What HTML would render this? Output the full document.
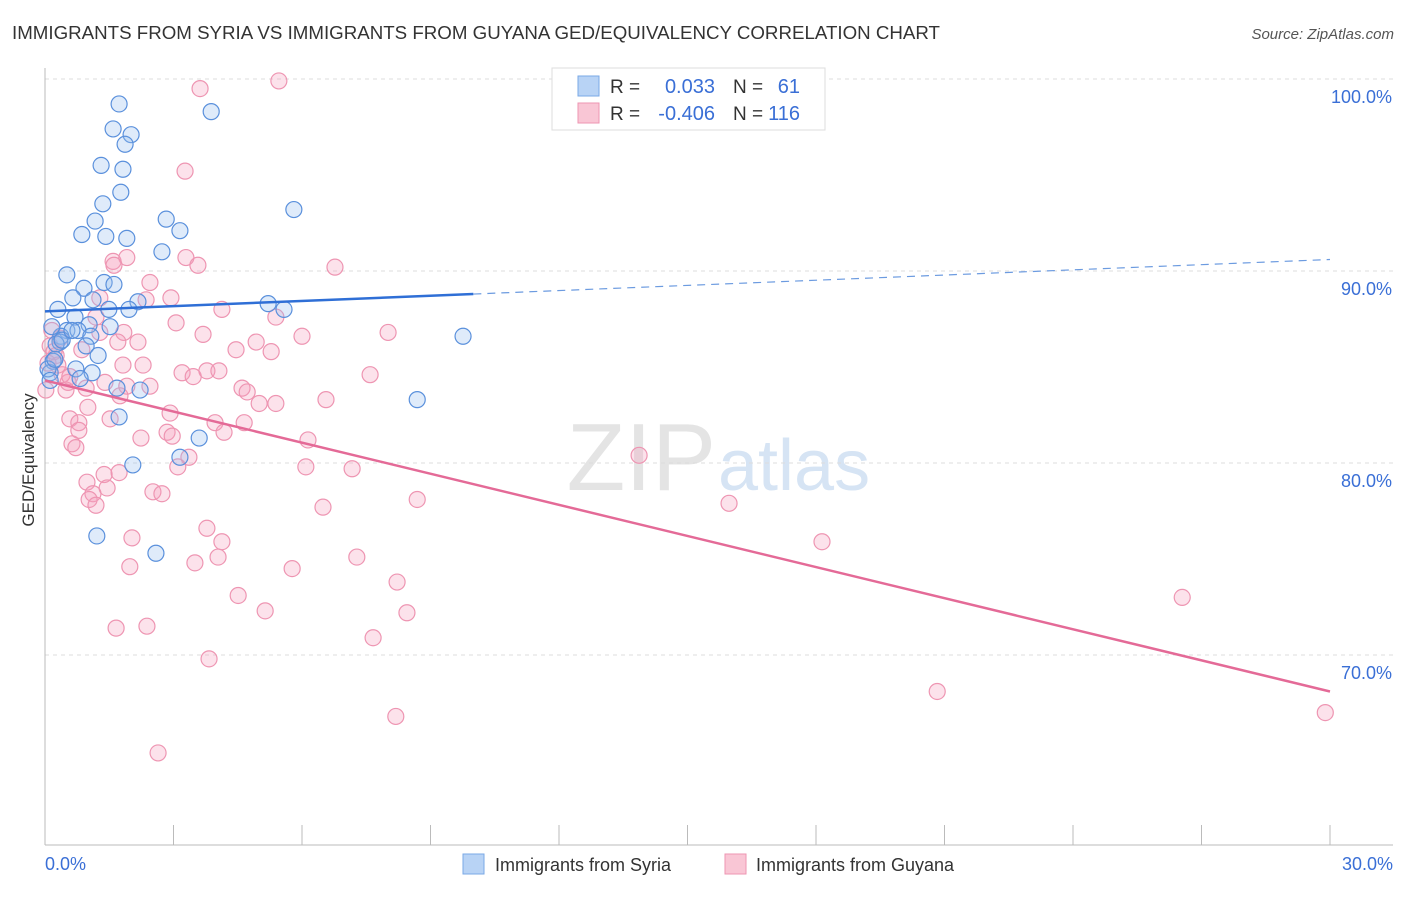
<!DOCTYPE html>
<html><head><meta charset="utf-8"><style>
body{margin:0;background:#fff;font-family:"Liberation Sans",sans-serif;}
svg text{font-family:"Liberation Sans",sans-serif;}
</style></head><body>
<svg id="c" width="1406" height="892">
<text x="12" y="39" font-size="18" fill="#333" textLength="928" lengthAdjust="spacingAndGlyphs">IMMIGRANTS FROM SYRIA VS IMMIGRANTS FROM GUYANA GED/EQUIVALENCY CORRELATION CHART</text>
<text x="1394" y="39" font-size="15" fill="#555" font-style="italic" text-anchor="end">Source: ZipAtlas.com</text>
<text x="716" y="490" font-size="96" fill="#e4e4e4" text-anchor="end" font-family="Liberation Serif">ZIP</text>
<text x="718" y="490" font-size="72" fill="#d6e4f4">atlas</text>
<text x="34" y="460" font-size="17" fill="#333" text-anchor="middle" transform="rotate(-90 34 460)">GED/Equivalency</text>
<g id="grid"></g><g id="pts"></g><g id="lines"></g>
<g>
<rect x="552" y="68" width="273" height="62" fill="#fff" stroke="#ddd"/>
<rect x="578" y="76" width="21" height="20" fill="#b8d3f5" stroke="#7aa8e6"/>
<rect x="578" y="103" width="21" height="20" fill="#f9c6d5" stroke="#ee95b2"/>
<text x="610" y="93" font-size="19" fill="#333">R =</text><text x="715" y="93" font-size="20" fill="#3a6fd6" text-anchor="end">0.033</text>
<text x="733" y="93" font-size="19" fill="#333">N =</text><text x="800" y="93" font-size="20" fill="#3a6fd6" text-anchor="end">61</text>
<text x="610" y="120" font-size="19" fill="#333">R =</text><text x="715" y="120" font-size="20" fill="#3a6fd6" text-anchor="end">-0.406</text>
<text x="733" y="120" font-size="19" fill="#333">N =</text><text x="800" y="120" font-size="20" fill="#3a6fd6" text-anchor="end">116</text>
</g>
<g>
<rect x="463" y="854" width="21" height="20" fill="#b8d3f5" stroke="#7aa8e6"/>
<text x="495" y="871" font-size="18" fill="#333">Immigrants from Syria</text>
<rect x="725" y="854" width="21" height="20" fill="#f9c6d5" stroke="#ee95b2"/>
<text x="756" y="871" font-size="18" fill="#333">Immigrants from Guyana</text>
</g>
</svg>
<script>
const xTickLabels=["0.0%","30.0%"];
const yTicks=[100,90,80,70];
const syriaX=[1.73,1.59,2.01,1.87,3.88,1.31,1.82,1.77,1.35,1.17,2.83,3.15,0.86,1.42,1.91,2.73,5.81,0.51,0.91,1.38,1.61,0.65,1.12,2.17,0.30,1.49,1.96,5.21,5.58,0.70,1.03,1.52,0.51,0.77,0.37,1.07,9.76,0.35,0.96,1.24,0.19,0.72,1.10,0.12,0.82,1.68,2.22,8.69,1.73,3.60,3.15,2.05,1.21,2.59,0.16,0.26,0.40,0.07,0.12,0.63,0.23];
const syriaY=[98.7,97.4,97.1,96.6,98.3,95.5,95.3,94.1,93.5,92.6,92.7,92.1,91.9,91.8,91.7,91.0,93.2,89.8,89.1,89.4,89.3,88.6,88.5,88.4,88.0,88.0,88.0,88.3,88.0,87.6,87.2,87.1,86.9,86.9,86.6,86.6,86.6,86.3,86.1,85.6,85.3,84.9,84.7,84.7,84.4,83.9,83.8,83.3,82.4,81.3,80.3,79.9,76.2,75.3,87.1,86.2,86.4,84.9,84.3,86.9,85.4];
const guyanaX=[5.46,3.62,3.27,1.59,1.91,1.61,3.29,3.57,6.77,2.45,2.94,1.28,2.36,4.13,5.39,1.19,3.06,1.84,3.69,6.00,8.01,1.28,1.70,2.17,4.93,0.86,4.46,5.28,2.29,1.82,3.20,3.46,3.78,4.06,7.59,1.40,0.54,0.96,1.91,2.45,4.60,4.72,0.49,1.75,5.00,5.39,6.56,1.00,2.92,0.58,1.52,3.97,4.65,0.79,0.79,4.18,2.85,2.97,2.24,6.14,0.63,0.72,3.36,3.10,6.09,7.17,13.87,1.38,1.73,0.98,1.45,2.52,2.73,1.12,1.03,1.19,8.69,6.49,15.97,3.78,2.03,4.13,18.14,4.04,3.50,7.28,1.98,5.77,8.22,4.51,5.14,8.45,26.55,1.66,2.38,7.66,3.83,20.83,8.19,29.89,2.64,0.16,0.12,0.26,0.35,0.07,0.40,0.02,0.21,0.30,0.58];
const guyanaY=[99.9,99.5,95.2,90.5,90.7,90.3,90.7,90.3,90.2,89.4,88.6,88.6,88.5,88.0,87.6,87.6,87.3,86.8,86.7,86.6,86.8,86.8,86.3,86.3,86.3,85.9,85.9,85.8,85.1,85.1,84.7,84.5,84.8,84.8,84.6,84.2,84.2,83.9,84.0,84.0,83.9,83.7,83.8,83.5,83.1,83.1,83.3,82.9,82.6,82.3,82.3,82.1,82.1,82.1,81.7,81.6,81.6,81.4,81.3,81.2,81.0,80.8,80.3,79.8,79.8,79.7,80.4,79.4,79.5,79.0,78.7,78.5,78.4,78.4,78.1,77.8,78.1,77.7,77.9,76.6,76.1,75.9,75.9,75.1,74.8,75.1,74.6,74.5,73.8,73.1,72.3,72.2,73.0,71.4,71.5,70.9,69.8,68.1,66.8,67.0,64.9,86.9,86.1,85.6,86.5,85.2,84.6,83.8,85.8,85.1,84.5];
const syriaTrend=[87.9,90.6];
const guyanaTrend=[84.3,68.1];
const NS="http://www.w3.org/2000/svg";
const X=v=>45+v*1285/30, Y=v=>79+(100-v)*19.2;
function mk(t,a,p){const e=document.createElementNS(NS,t);for(const k in a)e.setAttribute(k,a[k]);p.appendChild(e);return e;}
const grid=document.getElementById('grid');
yTicks.forEach(t=>{
 const l=mk('line',{x1:45,x2:1393,y1:Y(t),y2:Y(t),stroke:'#ddd','stroke-dasharray':'4,4'},grid);
 
 
 const tx=mk('text',{x:1392,y:Y(t)+24,'font-size':18,fill:'#3a6fd6','text-anchor':'end'},grid);tx.textContent=t.toFixed(1)+'%';
 
 
});
mk('line',{x1:45,x2:45,y1:68,y2:845,stroke:'#bbb'},grid);
mk('line',{x1:45,x2:1393,y1:845,y2:845,stroke:'#bbb'},grid);
for(let i=0;i<=10;i++){mk('line',{x1:X(i*3),x2:X(i*3),y1:825,y2:845,stroke:'#bbb'},grid);}
xTickLabels.forEach((s,i)=>{const tx=mk('text',{x:i?1393:45,y:870,'font-size':18,fill:'#3a6fd6','text-anchor':i?'end':'start'},grid);tx.textContent=s;
 
 });
const pts=document.getElementById('pts');
guyanaX.forEach((x,i)=>{const c=mk('circle',{cx:X(x),cy:Y(guyanaY[i]),r:8,fill:'rgba(244,160,188,0.3)',stroke:'#ee95b2','stroke-width':1.2},pts);
 
 });
syriaX.forEach((x,i)=>{const c=mk('circle',{cx:X(x),cy:Y(syriaY[i]),r:8,fill:'rgba(150,190,240,0.3)',stroke:'#5a90dc','stroke-width':1.2},pts);
 
 });
const L=document.getElementById('lines');
const sy=x=>syriaTrend[0]+(syriaTrend[1]-syriaTrend[0])*x/30;
let a=mk('line',{x1:X(0),y1:Y(sy(0)),x2:X(10),y2:Y(sy(10)),stroke:'#2f6fd6','stroke-width':2.5},L);


a=mk('line',{x1:X(10),y1:Y(sy(10)),x2:X(30),y2:Y(sy(30)),stroke:'#6c9be0','stroke-width':1.2,'stroke-dasharray':'8,6'},L);


a=mk('line',{x1:X(0),y1:Y(guyanaTrend[0]),x2:X(30),y2:Y(guyanaTrend[1]),stroke:'#e46a97','stroke-width':2.5},L);


</script>
</body></html>
